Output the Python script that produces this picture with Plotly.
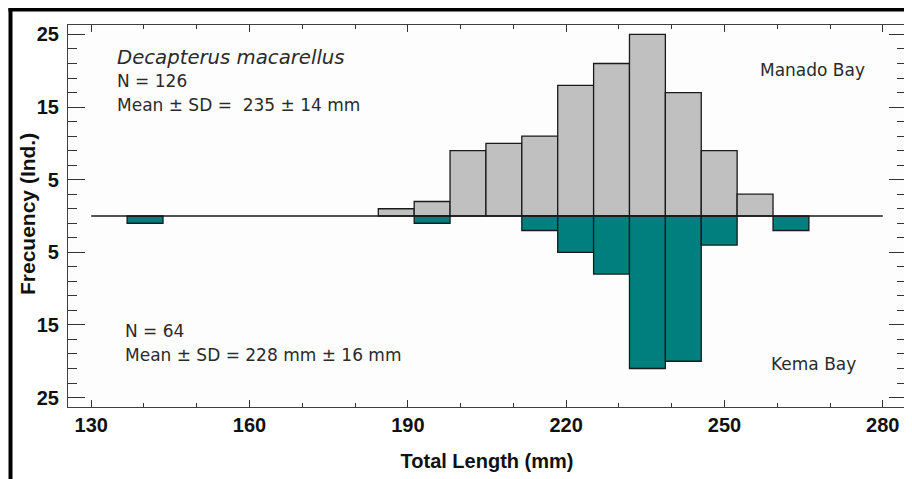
import plotly.graph_objects as go

# ---- data ----
manado_centers = [187.8, 194.6, 201.4, 208.2, 215.0, 221.8, 228.6, 235.4, 242.2, 249.0, 255.8]
manado_counts = [1, 2, 9, 10, 11, 18, 21, 25, 17, 9, 3]
kema_centers = [140.2, 194.6, 215.0, 221.8, 228.6, 235.4, 242.2, 249.0, 262.6]
kema_counts = [1, 1, 2, 5, 8, 21, 20, 4, 2]
bin_width = 6.8
baseline_x = [130, 280]
baseline_y = [0, 0]
x_ticks = [130, 160, 190, 220, 250, 280]
y_ticks = [25, 15, 5, -5, -15, -25]
y_ticktext = ["25", "15", "5", "5", "15", "25"]

fig = go.Figure()
fig.add_trace(go.Bar(
    x=manado_centers, y=manado_counts, width=bin_width,
    marker=dict(color="#c0c0c0", line=dict(color="#1a1a1a", width=1.3)),
    hoverinfo="skip", showlegend=False))
fig.add_trace(go.Bar(
    x=kema_centers, y=[-v for v in kema_counts], width=bin_width,
    marker=dict(color="#007f7f", line=dict(color="#1a1a1a", width=1.3)),
    hoverinfo="skip", showlegend=False))
fig.add_trace(go.Scatter(
    x=baseline_x, y=baseline_y, mode="lines",
    line=dict(color="#1a1a1a", width=1.3), hoverinfo="skip", showlegend=False))

tick_font = dict(family="Liberation Sans, Arial, sans-serif", size=20, color="#111111")
title_font = dict(family="Liberation Sans, Arial, sans-serif", size=20, color="#111111")

# page has an 8px body margin; figure sized to fit the window
fig.update_layout(
    width=904, height=471,
    margin=dict(l=60, r=6, t=17, b=72),
    paper_bgcolor="white", plot_bgcolor="#fdfdfd",
    barmode="overlay",
    xaxis=dict(
        range=[125.6, 284.4], tickvals=x_ticks, ticks="inside", ticklen=7,
        tickcolor="#333333", tickwidth=1.2,
        minor=dict(dtick=10, tick0=130, ticks="inside", ticklen=4, tickcolor="#333333", tickwidth=1.2),
        showline=True, linecolor="#404040", linewidth=1.2, mirror="ticks",
        showgrid=False, zeroline=False, automargin=False,
        tickfont=dict(tick_font, weight="bold"), ticklabelstandoff=0,
        title=dict(text="Total Length (mm)", font=dict(title_font, weight="bold"), standoff=18),
    ),
    yaxis=dict(
        range=[-26.3, 26.3], tickvals=y_ticks, ticktext=y_ticktext,
        ticks="inside", ticklen=17, tickcolor="#333333", tickwidth=1.2,
        minor=dict(dtick=2, tick0=1, ticks="inside", ticklen=9, tickcolor="#333333", tickwidth=1.2),
        showline=True, linecolor="#404040", linewidth=1.2, mirror="ticks",
        showgrid=False, zeroline=False, automargin=False,
        tickfont=dict(tick_font, weight="bold"), ticklabelstandoff=4,
    ),
)

ann_font = dict(family="DejaVu Sans, Verdana, sans-serif", size=17, color="#2a2a2a")

def px(xp):
    return (xp - 68) / 838.0

def py(yp):
    return (407 - yp) / 382.0

annots = [
    ("<i>Decapterus macarellus</i>", 115, 58, "left", 19.7),
    ("N = 126", 115, 81, "left", 17),
    ("Mean ± SD =  235 ± 14 mm", 115, 105, "left", 17),
    ("Manado Bay", 867, 70, "right", 17),
    ("N = 64", 123, 331, "left", 17),
    ("Mean ± SD = 228 mm ± 16 mm", 123, 355, "left", 17),
    ("Kema Bay", 858, 364, "right", 17),
]
for text, x, y, anchor, size in annots:
    fig.add_annotation(text=text, x=px(x), y=py(y), xref="paper", yref="paper",
                       xanchor=anchor, yanchor="middle", showarrow=False,
                       font=dict(ann_font, size=size))

# y-axis title
fig.add_annotation(text="<b>Frecuency (Ind.)</b>", x=px(27), y=py(214), xref="paper", yref="paper",
                   xanchor="center", yanchor="middle", textangle=-90, showarrow=False,
                   font=dict(title_font, size=21))

# outer frame (top and left edges visible in the reference crop)
fig.add_shape(type="line", xref="paper", yref="paper",
              x0=px(10.5), x1=px(10.5), y0=py(7.5), y1=py(490),
              line=dict(color="black", width=4))
fig.add_shape(type="line", xref="paper", yref="paper",
              x0=px(8.5), x1=px(925), y0=py(9.5), y1=py(9.5),
              line=dict(color="black", width=4))

fig.write_html("out.html")
